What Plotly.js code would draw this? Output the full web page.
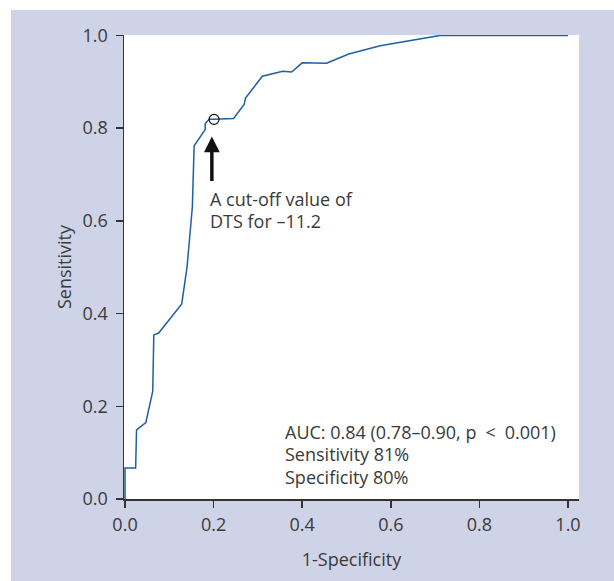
<!DOCTYPE html>
<html>
<head>
<meta charset="utf-8">
<script src="https://cdn.plot.ly/plotly-3.0.1.min.js"></script>
<style>
  html, body { margin: 0; padding: 0; background: #ffffff; width: 614px; height: 581px; overflow: hidden; }
  #chart { position: absolute; left: 11px; top: 10px; width: 603px; height: 571px; }
</style>
</head>
<body>
<div id="chart"></div>
<script>
// ROC curve values (1-Specificity, Sensitivity)
const fpr = [0, 0, 0.024, 0.026, 0.047, 0.0625, 0.065, 0.076, 0.128, 0.140, 0.152, 0.156, 0.181, 0.181, 0.190, 0.201, 0.245, 0.269, 0.272, 0.310, 0.356, 0.376, 0.400, 0.455, 0.505, 0.576, 0.711, 1.0];
const tpr = [0, 0.067, 0.067, 0.149, 0.165, 0.232, 0.354, 0.358, 0.421, 0.50, 0.63, 0.762, 0.797, 0.810, 0.819, 0.819, 0.821, 0.851, 0.865, 0.912, 0.923, 0.921, 0.941, 0.940, 0.960, 0.978, 1.0, 1.0];
// Selected cut-off point
const cutX = [0.201];
const cutY = [0.819];
const tickVals = [0, 0.2, 0.4, 0.6, 0.8, 1.0];
const tickText = ['0.0', '0.2', '0.4', '0.6', '0.8', '1.0'];
const cutoffLines = ['A cut-off value of', 'DTS for \u201311.2'];
const statsLines = ['AUC: 0.84 (0.78\u20130.90, p\u2002<\u20020.001)', 'Sensitivity 81%', 'Specificity 80%'];
const xTitle = '1-Specificity';
const yTitle = 'Sensitivity';

const FONT = 'Open Sans, Noto Sans, sans-serif';
const TXT = '#3a3a3a';
const BG = '#ced3e7';
const FS = 18;

const data = [
  {
    x: fpr, y: tpr, type: 'scatter', mode: 'lines',
    line: { color: '#1f5fa5', width: 1.5 },
    hoverinfo: 'skip', showlegend: false
  },
  {
    x: cutX, y: cutY, type: 'scatter', mode: 'markers',
    marker: { symbol: 'circle-open', size: 10, color: '#111111', line: { width: 1.2, color: '#111111' } },
    hoverinfo: 'skip', showlegend: false
  }
];

const axisCommon = {
  showgrid: false, zeroline: false, showline: true,
  linecolor: '#333333', linewidth: 1.5,
  ticks: 'outside', ticklen: 7, tickwidth: 1.5, tickcolor: '#333333',
  tickfont: { family: FONT, size: FS, color: TXT },
  tickmode: 'array', tickvals: tickVals, ticktext: tickText,
  fixedrange: true
};

const annotations = [
  {
    x: 0.196, y: 0.782, xref: 'x', yref: 'y',
    text: '', showarrow: true,
    ax: 0, ay: 46, axref: 'pixel', ayref: 'pixel',
    arrowhead: 2, arrowsize: 0.9, arrowwidth: 3.5, arrowcolor: '#111111'
  }
];
cutoffLines.forEach((t, i) => annotations.push({
  x: 0.187, y: 0.647, xref: 'x', yref: 'y', yshift: -22 * i,
  xanchor: 'left', yanchor: 'middle', align: 'left',
  text: t, showarrow: false,
  font: { family: FONT, size: FS, color: TXT }
}));
statsLines.forEach((t, i) => annotations.push({
  x: 0.356, y: 0.145, xref: 'x', yref: 'y', yshift: -22.5 * i,
  xanchor: 'left', yanchor: 'middle', align: 'left',
  text: t, showarrow: false,
  font: { family: FONT, size: FS, color: TXT }
}));

const layout = {
  width: 603, height: 571,
  margin: { l: 113, r: 35, t: 25, b: 82 },
  paper_bgcolor: BG,
  plot_bgcolor: '#ffffff',
  font: { family: FONT, color: TXT },
  xaxis: Object.assign({}, axisCommon, {
    range: [-0.0023, 1.0248],
    title: { text: xTitle, font: { family: FONT, size: FS, color: TXT }, standoff: 18 },
    ticklabelstandoff: 2
  }),
  yaxis: Object.assign({}, axisCommon, {
    range: [0, 1.001],
    title: { text: yTitle, font: { family: FONT, size: FS, color: TXT }, standoff: 6 },
    ticklabelstandoff: 4
  }),
  annotations: annotations
};

Plotly.newPlot('chart', data, layout, { displayModeBar: false, staticPlot: true });
</script>
</body>
</html>
